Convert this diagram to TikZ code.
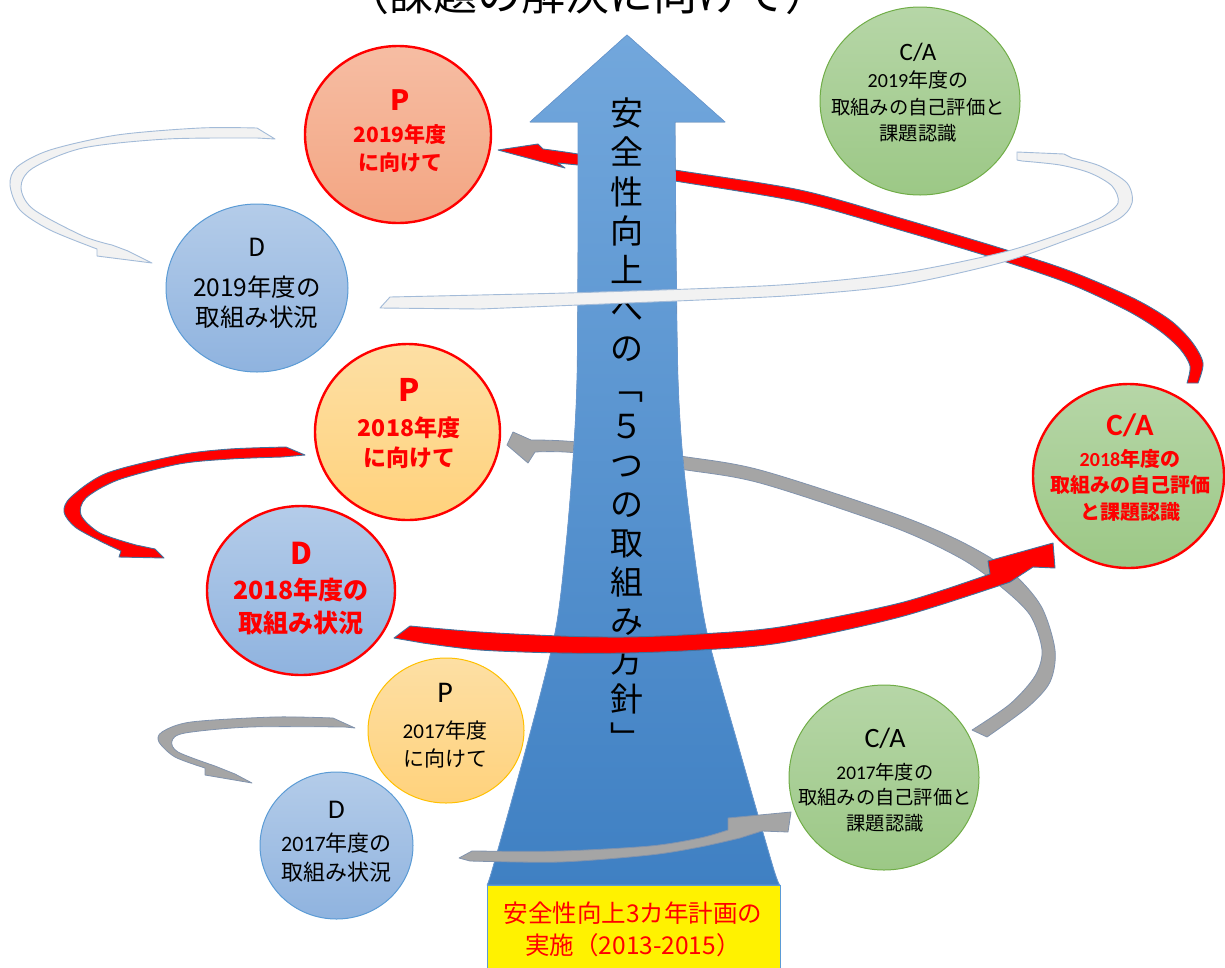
\documentclass[tikz,border=0pt]{standalone}
\usepackage{fontspec}
\setmainfont{Noto Sans CJK JP}
\newfontfamily\calib{Carlito}
\usetikzlibrary{shapes.geometric}
\definecolor{myred}{HTML}{FF0000}
\definecolor{ribedge}{HTML}{41719C}
\definecolor{grayfill}{HTML}{A5A5A5}
\definecolor{grayedge}{HTML}{8193AD}
\definecolor{lightfill}{HTML}{F2F2F2}
\definecolor{lightedge}{HTML}{A3BBD8}
\definecolor{bluetop}{HTML}{72A7DC}
\definecolor{bluebot}{HTML}{3F80C3}
\definecolor{blueedge}{HTML}{6A9BD3}
\definecolor{salmontop}{HTML}{F6BDA3}
\definecolor{salmonbot}{HTML}{F3A582}
\definecolor{dtop}{HTML}{B4CCE9}
\definecolor{dbot}{HTML}{8FB3DF}
\definecolor{dedge}{HTML}{5B9BD5}
\definecolor{ytop}{HTML}{FDDFA4}
\definecolor{ybot}{HTML}{FFD27C}
\definecolor{yedge}{HTML}{FFC000}
\definecolor{gtop}{HTML}{B6D6A7}
\definecolor{gbot}{HTML}{9CC886}
\definecolor{gedge}{HTML}{70AD47}
\begin{document}
\begin{tikzpicture}[x=1pt,y=-1pt,
  oval/.style={ellipse, inner sep=0pt},
  redring/.style={draw=myred, line width=2.4pt},
  pfill/.style={top color=ytop, bottom color=ybot},
  dfill/.style={top color=dtop, bottom color=dbot},
  gfill/.style={top color=gtop, bottom color=gbot},
  lbl/.style={inner sep=0pt, align=center},
  redtxt/.style={lbl, text=myred, font=\bfseries\fontsize{#1}{#1}\selectfont},
  blktxt/.style={lbl, text=black, font=\fontsize{#1}{#1}\selectfont},
  redrib/.style={fill=myred, draw=ribedge, line width=0.9pt, line join=round},
  grayrib/.style={fill=grayfill, draw=grayedge, line width=0.8pt, line join=round},
  lightrib/.style={fill=lightfill, draw=lightedge, line width=0.9pt, line join=round},
]
\useasboundingbox (0,0) rectangle (1225,967);

% title (cropped at the top)
\node[lbl, anchor=base, font=\fontsize{44}{44}\selectfont] (title) at (587,10) {（課題の解決に向けて）};

% ---- back ribbons (behind the big arrow)
\filldraw[redrib] (1187,383) -- (1198,383) -- plot[smooth] coordinates {(1198,383) (1203,363) (1192,342) (1170,320) (1133,298) (1070,271) (1000,248) (900,218) (800,190) (675,170) (578,154) (543,149)} -- (538,144) -- (498,150) -- (565,168) -- (558,163) -- plot[smooth] coordinates {(578,165) (675,181) (800,202) (900,230) (1000,260) (1070,284) (1128,311) (1160,331) (1180,349) (1190,366) (1187,383)} -- cycle;

\filldraw[grayrib] (507,445) -- (513,432) -- (531,440) -- plot[smooth] coordinates {(531,440) (577,442) (680,456) (760,470) (893,513) (960,541) (1010,571) (1041,606) (1055,650) (1050,682) (1028,707) (987,737)} -- (972,730) -- plot[smooth] coordinates {(972,730) (1010,704) (1035,676) (1042,650) (1030,615) (1000,586) (960,558) (893,527) (760,483) (680,469) (577,453) (535,452)} -- (528,463) -- cycle;

% ---- big arrow
\filldraw[top color=bluetop, bottom color=bluebot, draw=blueedge, line width=0.8pt, line join=round] (627,35) -- (725,122) -- (675,122) -- plot[smooth] coordinates {(675,122) (676,250) (678,380) (683,460) (693,545) (707,633) (738,745) (773,867) (780,885)} -- (487,885) -- plot[smooth] coordinates {(487,885) (493,867) (527,745) (555,633) (566,545) (573,460) (577,380) (578,250) (578,122)} -- (530,122) -- cycle;
\node[lbl, font=\fontsize{33}{39.06}\selectfont] (vtext) at (627,424.5) {安\\全\\性\\向\\上\\へ\\の\\﹁\\５\\つ\\の\\取\\組\\み\\方\\針\\﹂};

\node[draw=dedge, line width=0.8pt, fill=yellow, minimum width=293, minimum height=100, anchor=north west, inner sep=0pt] (plan) at (487,885) {};
\node[lbl, text=myred, font=\fontsize{24.5}{24.5}\selectfont] (plan1) at (633,913) {安全性向上3カ年計画の};
\node[lbl, text=myred, font=\fontsize{24.5}{24.5}\selectfont] (plan2) at (633,945) {実施（2013-2015）};

% ---- left loops
\filldraw[lightrib] (275,139) -- (257,128) -- plot[smooth] coordinates {(257,128) (200,128) (117,135) (50,150) (17,167) (10,185) (20,210) (50,230) (97,249)} -- (97,256) -- (152,263) -- (128,251) -- plot[smooth] coordinates {(112,245) (83,236) (33,209) (21,187) (33,168) (83,148) (167,139) (257,138)} -- cycle;

\filldraw[redrib] (305,455) -- (286,447) -- plot[smooth] coordinates {(286,447) (230,449) (179,455) (107,473) (71,497) (64,512) (75,527) (100,541) (121,551)} -- (119,557) -- (164,558) -- (155,549) -- plot[smooth] coordinates {(136,545) (100,533) (81,515) (86,498) (118,480) (179,464) (230,459) (282,457)} -- cycle;

\filldraw[grayrib] (355,728) -- (333,718) -- plot[smooth] coordinates {(333,718) (274,717) (191,722) (162,732) (159,742) (175,757) (205,768)} -- (205,775) -- (252,783) -- (235,774) -- plot[smooth] coordinates {(215,766) (178,752) (172,741) (185,733) (250,727) (345,727)} -- cycle;

% ---- front ribbons
\filldraw[lightrib] (380,308) -- (390,297) -- plot[smooth] coordinates {(390,297) (480,295) (600,292) (780,285) (900,273) (1000,253) (1060,234) (1100,218) (1118,203) (1112,186) (1090,173) (1060,165) (1022,161)} -- (1017,160) -- (1017,152) -- (1064,154) -- (1072,158) -- plot[smooth] coordinates {(1072,158) (1100,166) (1127,183) (1132,203) (1117,220) (1067,240) (1000,263) (900,285) (800,295) (700,300) (480,309)} -- cycle;

\filldraw[redrib] (394,638) -- plot[smooth] coordinates {(410,626) (480,632) (560,636) (627,637) (700,634) (780,627) (900,603) (990,574)} -- (988,561) -- (1053,543) -- (1055,568) -- (1033,567) -- plot[smooth] coordinates {(1010,582) (900,617) (780,643) (700,650) (627,653) (560,653) (480,650) (423,643)} -- cycle;

\filldraw[grayrib] (459,858) -- plot[smooth] coordinates {(472,851) (560,851) (650,846) (700,838) (728,830)} -- (728,818) -- (791,812) -- (788,832) -- (762,831) -- plot[smooth] coordinates {(740,838) (700,847) (650,855) (560,862) (470,861)} -- cycle;

% ---- circles
\node[oval, redring, top color=salmontop, bottom color=salmonbot, minimum width=186, minimum height=177] (p19) at (398,134.5) {};
\node[redtxt=28] (p19a) at (400,100) {P};
\node[redtxt=21] (p19b) at (400,135) {2019年度};
\node[redtxt=21] (p19c) at (400,163) {に向けて};

\node[oval, draw=dedge, line width=1pt, dfill, minimum width=182, minimum height=168] (d19) at (257,288) {};
\node[blktxt=25] (d19a) at (257,247) {D};
\node[blktxt=24.5] (d19b) at (257,287) {2019年度の};
\node[blktxt=24.5] (d19c) at (257,317) {取組み状況};

\node[oval, redring, pfill, minimum width=185, minimum height=176] (p18) at (407.5,432) {};
\node[redtxt=31] (p18a) at (409,390) {P};
\node[redtxt=23] (p18b) at (409,428) {2018年度};
\node[redtxt=23] (p18c) at (409,458) {に向けて};

\node[oval, redring, dfill, minimum width=188, minimum height=169] (d18) at (301,590.5) {};
\node[redtxt=30] (d18a) at (301,553) {D};
\node[redtxt=25] (d18b) at (301,590) {2018年度の};
\node[redtxt=25] (d18c) at (301,623) {取組み状況};

\node[oval, draw=yedge, line width=1pt, pfill, minimum width=156, minimum height=145] (p17) at (446,730.5) {};
\node[blktxt=30] (p17a) at (445,693) {\calib P};
\node[blktxt=21] (p17b) at (445,730) {{\calib 2017}年度};
\node[blktxt=21] (p17c) at (445,758) {に向けて};

\node[oval, draw=dedge, line width=1pt, dfill, minimum width=153, minimum height=147] (d17) at (336.5,845.5) {};
\node[blktxt=27] (d17a) at (336.5,810) {\calib D};
\node[blktxt=22] (d17b) at (336.5,843) {{\calib 2017}年度の};
\node[blktxt=22] (d17c) at (336.5,872) {取組み状況};

\node[oval, draw=gedge, line width=1pt, gfill, minimum width=200, minimum height=188] (ca19) at (920,101) {};
\node[blktxt=25] (ca19a) at (918,52) {\calib C/A};
\node[blktxt=20] (ca19b) at (918,80) {{\calib 2019}年度の};
\node[blktxt=19.3] (ca19c) at (918,107) {取組みの自己評価と};
\node[blktxt=19.3] (ca19d) at (918,133) {課題認識};

\node[oval, redring, gfill, minimum width=191, minimum height=184] (ca18) at (1128.5,476) {};
\node[redtxt=31] (ca18a) at (1130,425) {\calib C/A};
\node[redtxt=20] (ca18b) at (1130,459) {{\calib 2018}年度の};
\node[redtxt=20] (ca18c) at (1130,485) {取組みの自己評価};
\node[redtxt=20] (ca18d) at (1130,512) {と課題認識};

\node[oval, draw=gedge, line width=1pt, gfill, minimum width=190, minimum height=185] (ca17) at (884,777.5) {};
\node[blktxt=28] (ca17a) at (885,738) {\calib C/A};
\node[blktxt=19.3] (ca17b) at (885,772) {{\calib 2017}年度の};
\node[blktxt=19.3] (ca17c) at (885,797) {取組みの自己評価と};
\node[blktxt=19.3] (ca17d) at (885,823) {課題認識};
\end{tikzpicture}
\end{document}
